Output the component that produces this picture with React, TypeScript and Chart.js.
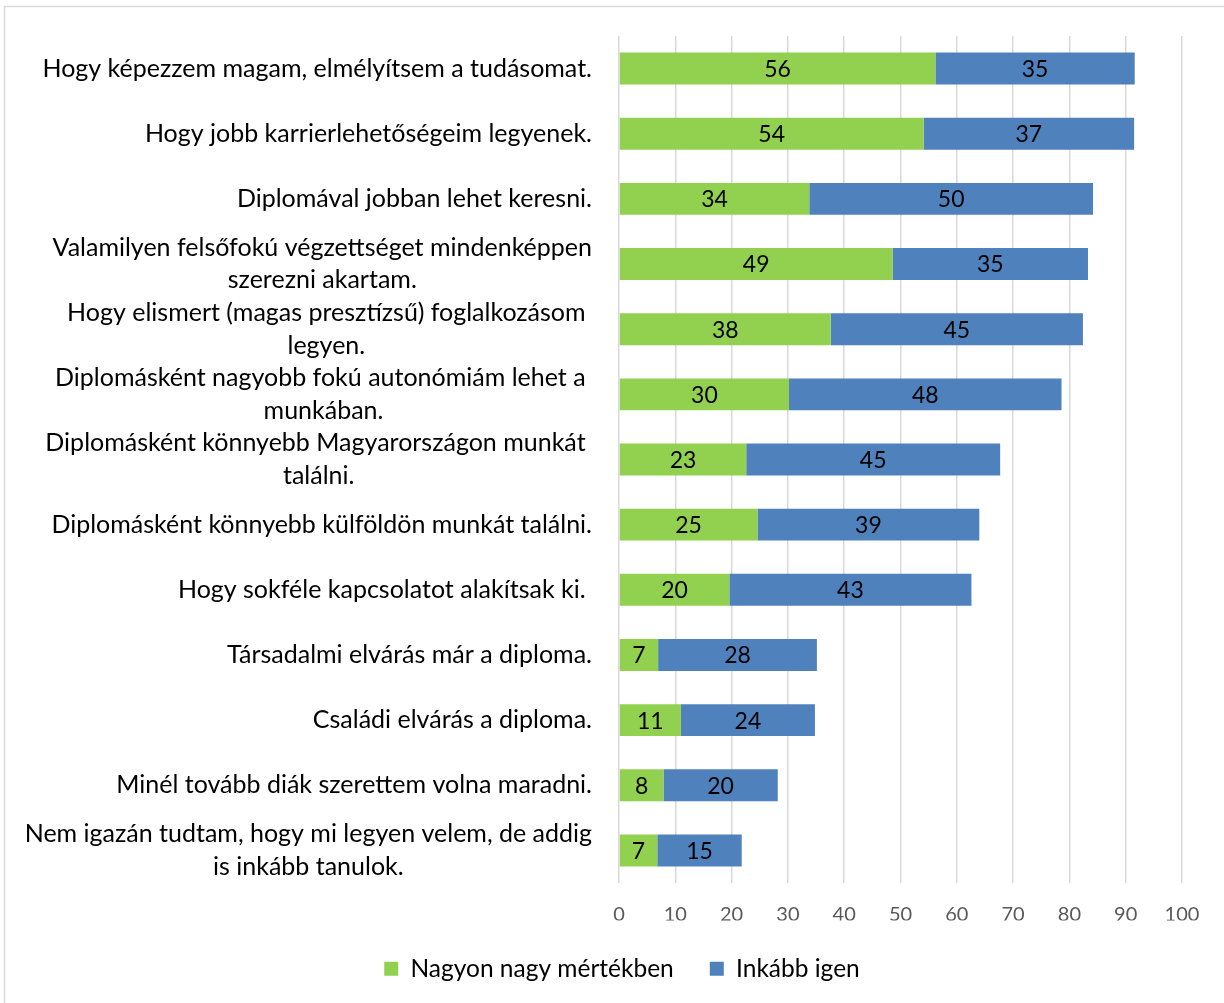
import React, { useEffect, useRef } from "react";
import { Chart, registerables } from "chart.js";

Chart.register(...registerables);

const categories: (string | string[])[] = [
  "Hogy képezzem magam, elmélyítsem a tudásomat.",
  "Hogy jobb karrierlehetőségeim legyenek.",
  "Diplomával jobban lehet keresni.",
  ["Valamilyen felsőfokú végzettséget mindenképpen", "szerezni akartam."],
  [" Hogy elismert (magas presztízsű) foglalkozásom ", "legyen."],
  ["Diplomásként nagyobb fokú autonómiám lehet a ", "munkában."],
  ["Diplomásként könnyebb Magyarországon munkát ", "találni."],
  "Diplomásként könnyebb külföldön munkát találni.",
  "Hogy sokféle kapcsolatot alakítsak ki. ",
  "Társadalmi elvárás már a diploma.",
  "Családi elvárás a diploma.",
  "Minél tovább diák szerettem volna maradni.",
  ["Nem igazán tudtam, hogy mi legyen velem, de addig", "is inkább tanulok."],
];

const seriesNames = ["Nagyon nagy mértékben", "Inkább igen"];
const nagyonValues = [56.2, 54.1, 33.8, 48.6, 37.6, 30.2, 22.6, 24.6, 19.6, 6.95, 11.0, 7.9, 6.8];
const inkabbValues = [35.4, 37.4, 50.4, 34.7, 44.8, 48.4, 45.1, 39.4, 43.0, 28.2, 23.8, 20.3, 15.0];

const axisMin = 0;
const axisMax = 100;
const axisStep = 10;

const GREEN = "#92D050";
const BLUE = "#4F81BD";
const FONT = "Lato";
const PAD_BOTTOM = 12;
const PLOT_BOTTOM = 883;

const frameAndLabels = {
  id: "frameAndLabels",
  beforeDraw(chart: any) {
    const ctx = chart.ctx;
    ctx.save();
    ctx.fillStyle = "#ffffff";
    ctx.fillRect(0, 0, chart.width, chart.height);
    ctx.strokeStyle = "#d9d9d9";
    ctx.lineWidth = 1.5;
    ctx.strokeRect(4.5, 6.5, 1400, 1200);
    ctx.restore();
  },
  afterDraw(chart: any) {
    const ctx = chart.ctx;
    const y = chart.scales.y;
    const right = chart.chartArea.left - 27;
    ctx.save();
    ctx.font = `25px ${FONT}`;
    ctx.fillStyle = "#000000";
    ctx.textBaseline = "middle";
    ctx.textAlign = "center";
    const lh = 32.5;
    categories.forEach((c, i) => {
      const lines = Array.isArray(c) ? c : [c];
      const cy = y.getPixelForValue(i);
      const maxW = Math.max(...lines.map((l) => ctx.measureText(l).width));
      const cx = right - maxW / 2;
      lines.forEach((l, k) => {
        const ly = cy + (k - (lines.length - 1) / 2) * lh;
        ctx.fillText(l, cx, ly);
      });
    });
    ctx.font = `23px ${FONT}`;
    chart.data.datasets.forEach((ds: any, di: number) => {
      const meta = chart.getDatasetMeta(di);
      meta.data.forEach((bar: any, i: number) => {
        const v = ds.data[i];
        const x = (bar.x + bar.base) / 2;
        ctx.fillText(String(Math.round(v)), x, bar.y + 1);
      });
    });
    ctx.restore();
  },
};

export default function App() {
  const ref = useRef<HTMLCanvasElement | null>(null);
  useEffect(() => {
    if (!ref.current) return;
    const chart = new Chart(ref.current, {
      type: "bar",
      data: {
        labels: categories.map((c) => (Array.isArray(c) ? c.join(" ") : c)),
        datasets: [
          {
            label: seriesNames[0],
            data: nagyonValues,
            backgroundColor: GREEN,
            borderWidth: 0,
            barPercentage: 0.49,
            categoryPercentage: 1,
          },
          {
            label: seriesNames[1],
            data: inkabbValues,
            backgroundColor: BLUE,
            borderWidth: 0,
            barPercentage: 0.49,
            categoryPercentage: 1,
          },
        ],
      },
      options: {
        indexAxis: "y",
        responsive: true,
        maintainAspectRatio: false,
        animation: false,
        layout: { padding: { top: 36, right: 42, left: 62, bottom: PAD_BOTTOM } },
        plugins: {
          tooltip: { enabled: false },
          legend: {
            position: "bottom",
            labels: {
              font: { family: FONT, size: 24.5 },
              color: "#000000",
              boxWidth: 14,
              boxHeight: 14,
              padding: 36,
            },
          },
        },
        scales: {
          y: {
            stacked: true,
            ticks: { display: false },
            grid: { display: false },
            border: { display: false },
            afterFit: (s: any) => {
              s.width = 619 - 62;
            },
          },
          x: {
            stacked: true,
            min: axisMin,
            max: axisMax,
            ticks: {
              stepSize: axisStep,
              font: { family: FONT, size: 20 },
              color: "#595959",
              padding: 20,
            },
            grid: { color: "#d9d9d9", lineWidth: 1.5, drawTicks: false },
            border: { display: false },
            afterFit: (s: any) => {
              const lg = s.chart.legend;
              const lh = lg && lg.height ? lg.height : 0;
              s.height = Math.max(0, s.chart.height - PAD_BOTTOM - lh - PLOT_BOTTOM);
            },
          },
        },
      },
      plugins: [frameAndLabels],
    } as any);
    return () => chart.destroy();
  }, []);
  return (
    <div style={{ position: "absolute", left: 0, top: 0, width: 1224, height: 1003 }}>
      <canvas ref={ref} />
    </div>
  );
}
